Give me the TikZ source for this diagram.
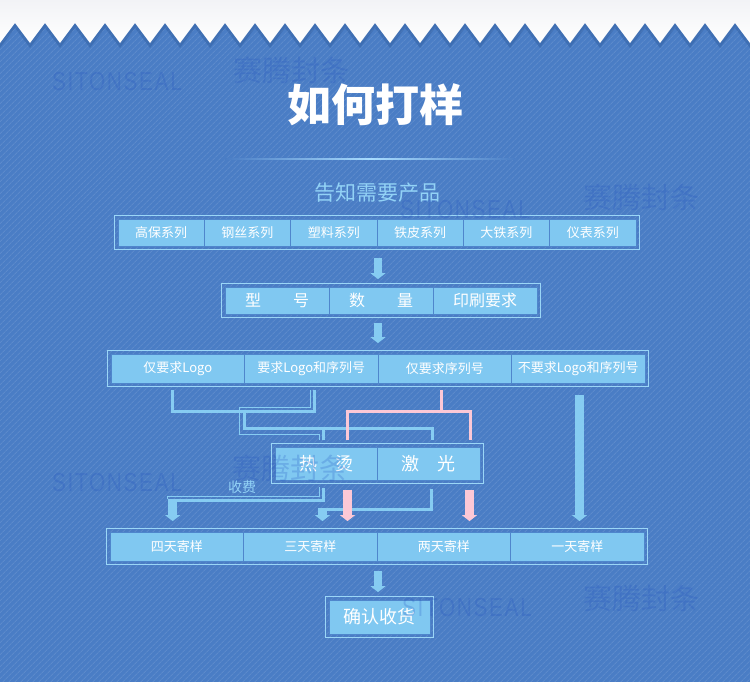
\documentclass[tikz,border=0pt]{standalone}
\usepackage{fontspec}
\setmainfont{Noto Sans CJK SC}
\newfontfamily\wmfont[LetterSpace=8]{Liberation Sans}
\usetikzlibrary{arrows.meta,fit,patterns.meta,calc}
\definecolor{bg}{HTML}{4A7DC5}
\definecolor{cellfill}{HTML}{80C8F1}
\definecolor{cellborder}{HTML}{4F86CC}
\definecolor{framecol}{HTML}{9AD6F7}
\definecolor{linecol}{HTML}{86CCF2}
\definecolor{pinkcol}{HTML}{FCC8D6}
\definecolor{subtxt}{HTML}{92D2F6}
\definecolor{wmcol}{HTML}{1F4FBF}
\definecolor{shadowcol}{HTML}{2F5C9E}
\definecolor{topgrey}{HTML}{F2F3F6}
\definecolor{glow}{HTML}{A8DCFF}
\begin{document}
\begin{tikzpicture}[x=1pt,y=-1pt,
  cell/.style={draw=cellborder,line width=0.8pt,fill=cellfill,text=white,inner sep=0pt,anchor=center},
  frame/.style={draw=framecol,line width=1pt,inner sep=3pt},
  ctext/.style={font=\fontsize{13}{13}\selectfont},
  bl/.style={draw=linecol,line width=3pt},
  thinbl/.style={draw=linecol,line width=1pt},
  pk/.style={draw=pinkcol,line width=3pt},
  arr/.style={line width=8.5pt,-{Triangle[width=15pt,length=6pt]}},
  arrb/.style={arr,draw=linecol},
  arrp/.style={arr,draw=pinkcol},
  wm/.style={text=wmcol,opacity=0.22,inner sep=0pt},
]
\useasboundingbox (0,0) rectangle (750,682);
% background
\fill[bg] (0,0) rectangle (750,682);
\fill[pattern={Lines[angle=45,distance=4pt,line width=1pt]},pattern color=bg!90!white] (0,20) rectangle (750,682);
\fill[shadowcol,opacity=0.45] (0,0) -- (0,48) \foreach \i in {0,...,24} { -- ({30*\i+15},28) -- ({30*\i+30},48) } -- (750,0) -- cycle;
\shade[top color=topgrey,bottom color=white] (0,0) -- (0,43) \foreach \i in {0,...,24} { -- ({30*\i+15},23) -- ({30*\i+30},43) } -- (750,0) -- cycle;

% title
\node[text=white,font=\fontsize{44}{44}\selectfont\bfseries] (title) at (375,105) {如何打样};
\shade[left color=bg,right color=bg,middle color=glow] (225,158.2) rectangle (517,159.8);
\node[text=subtxt,font=\fontsize{21}{21}\selectfont] (sub) at (377,193) {告知需要产品};

% row 1
\foreach \t [count=\i] in {高保系列,钢丝系列,塑料系列,铁皮系列,大铁系列,仪表系列}
  \node[cell,ctext,minimum width=86.33pt,minimum height=27pt] (a\i) at ({118+86.33*(\i-0.5)},232.5) {\t};
\node[frame,fit=(a1)(a6)] (r1) {};

% row 2
\foreach \t [count=\i] in {型　　号,数　　量,印刷要求}
  \node[cell,font=\fontsize{16}{16}\selectfont,minimum width=104pt,minimum height=27pt] (b\i) at ({225+104*(\i-0.5)},300.5) {\t};
\node[frame,fit=(b1)(b3)] (r2) {};

% row 3
\foreach \t [count=\i] in {仅要求Logo,要求Logo和序列号,仅要求序列号,不要求Logo和序列号}
  \node[cell,ctext,minimum width=133.5pt,minimum height=29pt] (c\i) at ({111+133.5*(\i-0.5)},368.5) {\t};
\node[frame,fit=(c1)(c4)] (r3) {};

% hot stamping / laser
\node[cell,font=\fontsize{18}{18}\selectfont,minimum width=102.5pt,minimum height=33pt] (hot) at (326.25,463.5) {热　烫};
\node[cell,font=\fontsize{18}{18}\selectfont,minimum width=102.5pt,minimum height=33pt] (laser) at (428.75,463.5) {激　光};
\node[frame,fit=(hot)(laser)] (hf) {};

% row 4
\foreach \t [count=\i] in {四天寄样,三天寄样,两天寄样,一天寄样}
  \node[cell,ctext,minimum width=133.5pt,minimum height=29pt] (d\i) at ({110+133.5*(\i-0.5)},546.5) {\t};
\node[frame,fit=(d1)(d4)] (r4) {};

% final
\node[cell,font=\fontsize{18}{18}\selectfont,minimum width=101pt,minimum height=34pt] (fin) at (379.5,617) {确认收货};
\node[frame,fit=(fin)] (ff) {};

% main arrows
\draw[arrb,shorten <=8pt,shorten >=4pt] (378,0 |- r1.south) -- (378,0 |- r2.north);
\draw[arrb,shorten <=5pt,shorten >=7pt] (378,0 |- r2.south) -- (378,0 |- r3.north);
\draw[arrb,shorten <=6pt,shorten >=4pt] (378,0 |- r4.south) -- (378,0 |- ff.north);

% connectors row 3 -> hot/laser
\draw[bl,shorten <=3pt,shorten >=3pt] (172.5,0 |- r3.south) |- (314.5,411) -- (314.5,0 |- r3.south);
\coordinate (jb) at (244.5,411);
\draw[bl,shorten >=3pt] (jb) |- (432,428.3) -- (432,0 |- hf.north);
\draw[bl,shorten >=3pt] (323,428.3) -- (323,0 |- hf.north);
\draw[thinbl,shorten <=3pt,shorten >=3pt] (310.7,0 |- r3.south) |- (239.3,407) |- (319.5,434.3) -- (319.5,0 |- hf.north);
\draw[pk,shorten <=3pt] (441,0 |- r3.south) -- (441,411.7);
\draw[pk,shorten <=3pt,shorten >=3pt] (347,0 |- hf.north) |- (470,411.7) -- (470,0 |- hf.north);

% connectors hot/laser -> row 4
\node[text=subtxt,font=\fontsize{14}{14}\selectfont] (fee) at (242,487) {收费};
\draw[thinbl,shorten <=3pt] (319.3,0 |- hf.south) |- (167.5,496) -- (167.5,499);
\draw[bl,shorten <=4pt] (323,0 |- hf.south) |- (172.7,500.7);
\draw[arrb,shorten >=7pt] (172.7,499.2) -- (172.7,0 |- r4.north);
\draw[bl,shorten <=5pt] (431,0 |- hf.south) |- (322.5,509.2);
\draw[arrb,shorten >=7pt] (322.5,507.7) -- (322.5,0 |- r4.north);
\draw[arrp,shorten <=6pt,shorten >=7pt] (347.5,0 |- hf.south) -- (347.5,0 |- r4.north);
\draw[arrp,shorten <=6pt,shorten >=7pt] (469.5,0 |- hf.south) -- (469.5,0 |- r4.north);
\draw[arrb,shorten <=8pt,shorten >=7pt] (579.5,0 |- r3.south) -- (579.5,0 |- r4.north);

% watermarks
\foreach \x/\y [count=\k] in {117/82,465/210,117/483,467/608}
  \node[wm,font=\wmfont\fontsize{26}{26}\selectfont,xscale=0.8] (wmA\k) at (\x,\y) {SITONSEAL};
\foreach \x/\y [count=\k] in {291/70,641/197,290/468,641/598}
  \node[wm,font=\fontsize{29}{29}\selectfont] (wmB\k) at (\x,\y) {赛腾封条};
\end{tikzpicture}
\end{document}
